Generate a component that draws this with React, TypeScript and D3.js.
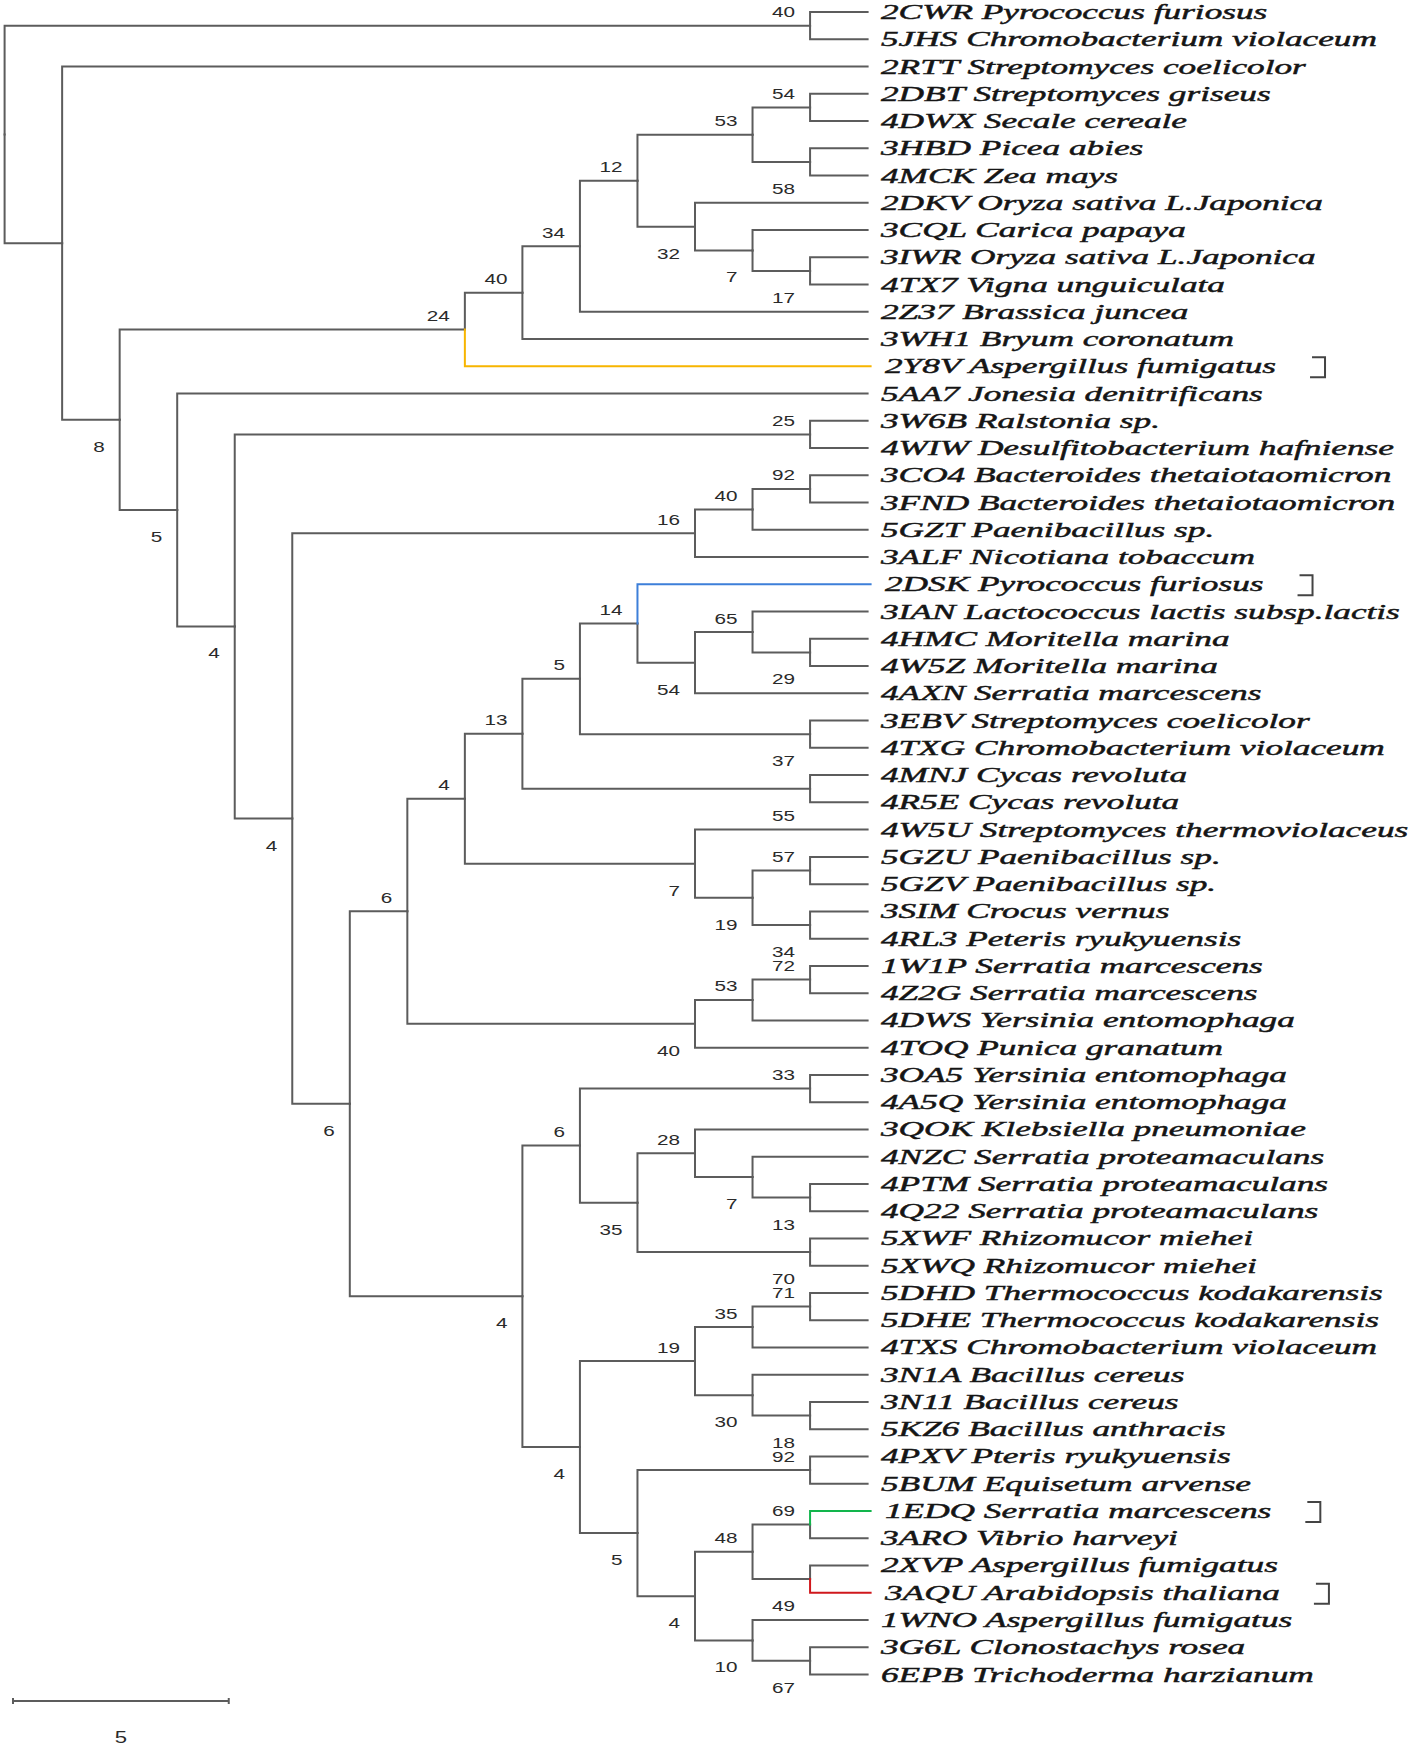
import React, { useEffect, useRef } from "react";
import * as d3 from "d3";

// Tree topology (Newick) with bootstrap support values as internal-node labels
const NEWICK =
  "((2CWR,5JHS)40,(2RTT,(((((((2DBT,4DWX)54,(3HBD,4MCK)58)53,(2DKV,(3CQL,(3IWR,4TX7)17)7)32)12,2Z37)34,3WH1)40,2Y8V)24," +
  "(5AA7,((3W6B,4WIW)25,((((3CO4,3FND)92,5GZT)40,3ALF)16," +
  "((((((2DSK,((3IAN,(4HMC,4W5Z)29)65,4AXN)54)14,(3EBV,4TXG)37)5,(4MNJ,4R5E)55)13,(4W5U,((5GZU,5GZV)57,(3SIM,4RL3)34)19)7)4," +
  "(((1W1P,4Z2G)72,4DWS)53,4TOQ)40)6," +
  "(((3OA5,4A5Q)33,((3QOK,(4NZC,(4PTM,4Q22)13)7)28,(5XWF,5XWQ)70)35)6," +
  "((((5DHD,5DHE)71,4TXS)35,(3N1A,(3N11,5KZ6)18)30)19,((4PXV,5BUM)92,(((1EDQ,3ARO)69,(2XVP,3AQU)49)48,(1WNO,(3G6L,6EPB)67)10)4)5)4)4)6)4)4)5)8));";

const LEAF_NAMES = [
  "2CWR Pyrococcus furiosus",
  "5JHS Chromobacterium violaceum",
  "2RTT Streptomyces coelicolor",
  "2DBT Streptomyces griseus",
  "4DWX Secale cereale",
  "3HBD Picea abies",
  "4MCK Zea mays",
  "2DKV Oryza sativa L.Japonica",
  "3CQL Carica papaya",
  "3IWR Oryza sativa L.Japonica",
  "4TX7 Vigna unguiculata",
  "2Z37 Brassica juncea",
  "3WH1 Bryum coronatum",
  "2Y8V Aspergillus fumigatus",
  "5AA7 Jonesia denitrificans",
  "3W6B Ralstonia sp.",
  "4WIW Desulfitobacterium hafniense",
  "3CO4 Bacteroides thetaiotaomicron",
  "3FND Bacteroides thetaiotaomicron",
  "5GZT Paenibacillus sp.",
  "3ALF Nicotiana tobaccum",
  "2DSK Pyrococcus furiosus",
  "3IAN Lactococcus lactis subsp.lactis",
  "4HMC Moritella marina",
  "4W5Z Moritella marina",
  "4AXN Serratia marcescens",
  "3EBV Streptomyces coelicolor",
  "4TXG Chromobacterium violaceum",
  "4MNJ Cycas revoluta",
  "4R5E Cycas revoluta",
  "4W5U Streptomyces thermoviolaceus",
  "5GZU Paenibacillus sp.",
  "5GZV Paenibacillus sp.",
  "3SIM Crocus vernus",
  "4RL3 Peteris ryukyuensis",
  "1W1P Serratia marcescens",
  "4Z2G Serratia marcescens",
  "4DWS Yersinia entomophaga",
  "4TOQ Punica granatum",
  "3OA5 Yersinia entomophaga",
  "4A5Q Yersinia entomophaga",
  "3QOK Klebsiella pneumoniae",
  "4NZC Serratia proteamaculans",
  "4PTM Serratia proteamaculans",
  "4Q22 Serratia proteamaculans",
  "5XWF Rhizomucor miehei",
  "5XWQ Rhizomucor miehei",
  "5DHD Thermococcus kodakarensis",
  "5DHE Thermococcus kodakarensis",
  "4TXS Chromobacterium violaceum",
  "3N1A Bacillus cereus",
  "3N11 Bacillus cereus",
  "5KZ6 Bacillus anthracis",
  "4PXV Pteris ryukyuensis",
  "5BUM Equisetum arvense",
  "1EDQ Serratia marcescens",
  "3ARO Vibrio harveyi",
  "2XVP Aspergillus fumigatus",
  "3AQU Arabidopsis thaliana",
  "1WNO Aspergillus fumigatus",
  "3G6L Clonostachys rosea",
  "6EPB Trichoderma harzianum",
];

const HIGHLIGHTED = ["2Y8V", "2DSK", "1EDQ", "3AQU"];
const HIGHLIGHT_COLORS = ["#f7b500", "#3d7fd9", "#12b54c", "#d0181c"];

const TREE_DEPTH = 20; // total root-to-tip distance
const SCALE_BAR = 5;

type RawNode = { name: string; children?: RawNode[] };

function parseNewick(s: string): RawNode {
  let i = 0;
  function node(): RawNode {
    const n: RawNode = { name: "", children: [] };
    if (s[i] === "(") {
      i++;
      n.children!.push(node());
      while (s[i] === ",") {
        i++;
        n.children!.push(node());
      }
      i++;
    }
    let label = "";
    while (i < s.length && !",();".includes(s[i])) label += s[i++];
    n.name = label;
    if (!n.children!.length) delete n.children;
    return n;
  }
  return node();
}

const W = 1418;
const H = 1748;

export default function App() {
  const ref = useRef<SVGSVGElement>(null);

  useEffect(() => {
    const svg = d3.select(ref.current!);
    svg.selectAll("*").remove();

    const root: any = d3.hierarchy(parseNewick(NEWICK));
    const levels = root.height;
    const leaves = root.leaves();

    const x = d3.scaleLinear().domain([0, TREE_DEPTH]).range([4.6, 867.6]);
    const y = d3.scaleLinear().domain([0, leaves.length - 1]).range([12, 1674.5]);

    leaves.forEach((l: any, i: number) => (l.py = y(i)));
    root.eachAfter((n: any) => {
      if (n.children) n.py = (n.children[0].py + n.children[n.children.length - 1].py) / 2;
      n.px = x(((levels - n.height) * TREE_DEPTH) / levels);
    });

    const colorOf = (n: any) => {
      if (n.children) return null;
      const k = HIGHLIGHTED.indexOf(n.data.name);
      return k >= 0 ? HIGHLIGHT_COLORS[k] : null;
    };

    const gray = "#5c5c5c";
    const links = root.descendants().filter((n: any) => n.parent);

    const ordered = [...links.filter((n: any) => !colorOf(n)), ...links.filter((n: any) => colorOf(n))];
    svg
      .append("g")
      .attr("fill", "none")
      .selectAll("path")
      .data(ordered)
      .join("path")
      .attr("d", (n: any) => {
        const c = colorOf(n);
        const end = c ? n.px + 3 : n.px;
        return `M${n.parent.px},${n.parent.py}V${n.py}H${end}`;
      })
      .attr("stroke", (n: any) => colorOf(n) || gray)
      .attr("stroke-width", 2)
      .attr("stroke-linecap", "square");

    // support values
    const SX_NUM = 1.38;
    svg
      .append("g")
      .selectAll("text")
      .data(root.descendants().filter((n: any) => n.children && n.parent && n.data.name))
      .join("text")
      .attr("transform", (n: any) => {
        const first = n.parent.children[0] === n;
        const ty = first ? n.py - 8.5 : n.py + 32;
        return `translate(${n.px - 15},${ty}) scale(${SX_NUM},1)`;
      })
      .attr("text-anchor", "end")
      .attr("font-family", "Liberation Sans, Arial, sans-serif")
      .attr("font-size", 15)
      .attr("fill", "#2a2a2a")
      .text((n: any) => n.data.name);

    // leaf labels
    const SX_LEAF = 1.72;
    const nameOf = (code: string) => LEAF_NAMES.find((s) => s.split(" ")[0] === code) || code;
    const lg = svg.append("g");
    leaves.forEach((l: any) => {
      const c = colorOf(l);
      const tx = 881 + (c ? 4 : 0);
      const t = lg
        .append("text")
        .attr("transform", `translate(${tx},${l.py + 7}) scale(${SX_LEAF},1)`)
        .attr("font-family", "Liberation Serif, Times New Roman, serif")
        .attr("font-style", "italic")
        .attr("font-size", 20.5)
        .attr("fill", "#151515")
        .attr("stroke", "#151515")
        .attr("stroke-width", 0.45)
        .text(nameOf(l.data.name));
      if (c) {
        const w = (t.node() as SVGTextElement).getComputedTextLength() * SX_LEAF;
        const bx = tx + w + 34;
        lg.append("path")
          .attr("d", `M${bx + 2},${l.py - 9}H${bx + 15}V${l.py + 11}H${bx}`)
          .attr("fill", "none")
          .attr("stroke", "#444")
          .attr("stroke-width", 2);
      }
    });

    // scale bar
    const barX0 = 13;
    const barLen = x(SCALE_BAR) - x(0);
    const barY = 1701;
    const sb = svg.append("g").attr("stroke", gray).attr("stroke-width", 2);
    sb.append("line").attr("x1", barX0).attr("x2", barX0 + barLen).attr("y1", barY).attr("y2", barY);
    sb.append("line").attr("x1", barX0).attr("x2", barX0).attr("y1", barY - 3).attr("y2", barY + 3);
    sb.append("line").attr("x1", barX0 + barLen).attr("x2", barX0 + barLen).attr("y1", barY - 3).attr("y2", barY + 3);
    svg
      .append("text")
      .attr("transform", `translate(${barX0 + barLen / 2},${barY + 42}) scale(${SX_NUM},1)`)
      .attr("text-anchor", "middle")
      .attr("font-family", "Liberation Sans, Arial, sans-serif")
      .attr("font-size", 16)
      .attr("fill", "#2a2a2a")
      .text(String(SCALE_BAR));
  }, []);

  return (
    <svg
      ref={ref}
      width={W}
      height={H}
      viewBox={`0 0 ${W} ${H}`}
      style={{ position: "absolute", left: 0, top: 0, background: "#fff" }}
    />
  );
}
